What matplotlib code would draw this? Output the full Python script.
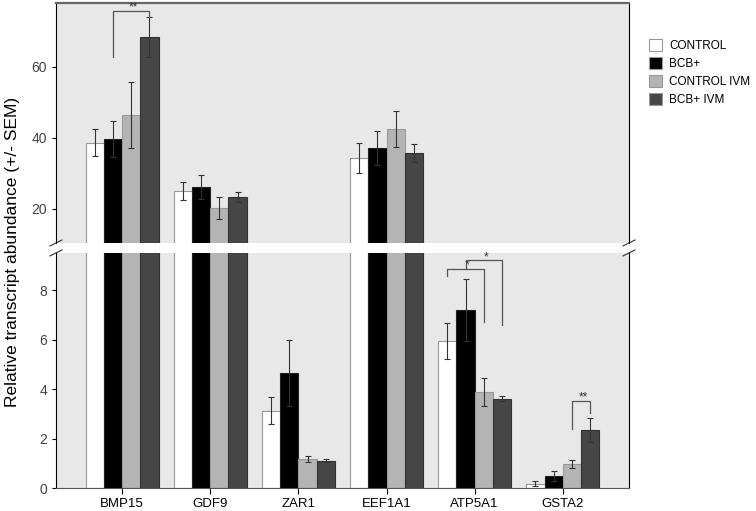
"""Relative transcript abundance by gene and treatment, broken y axis."""

import matplotlib

matplotlib.use("Agg")
import matplotlib.pyplot as plt
import numpy as np
from matplotlib.patches import Patch

plt.rcParams["font.family"] = ["Liberation Sans", "DejaVu Sans"]

GENES = ["BMP15", "GDF9", "ZAR1", "EEF1A1", "ATP5A1", "GSTA2"]
GROUPS = ["CONTROL", "BCB+", "CONTROL IVM", "BCB+ IVM"]

# mean and SEM per group, one entry per gene
CONTROL = [38.6, 25.1, 3.12, 34.4, 5.95, 0.18]
CONTROL_SEM = [3.8, 2.5, 0.55, 4.2, 0.73, 0.10]
BCB = [39.7, 26.2, 4.66, 37.2, 7.20, 0.48]
BCB_SEM = [5.0, 3.4, 1.33, 4.8, 1.26, 0.20]
CONTROL_IVM = [46.5, 20.3, 1.17, 42.5, 3.88, 0.97]
CONTROL_IVM_SEM = [9.3, 3.1, 0.12, 5.1, 0.57, 0.16]
BCB_IVM = [68.4, 23.4, 1.10, 35.8, 3.60, 2.34]
BCB_IVM_SEM = [5.6, 1.4, 0.06, 2.5, 0.10, 0.48]

# significance brackets: (gene index, group a, group b, y left leg, y top, y right leg, label)
BRACKETS_UP = [(0, 1, 3, 62.8, 75.8, 74.1, "**")]
BRACKETS_LOW = [
    (4, 0, 2, 8.55, 8.87, 6.72, "*"),
    (4, 1, 3, 8.87, 9.20, 6.60, "*"),
    (5, 2, 3, 2.39, 3.52, 3.04, "**"),
]

FILL = ["white", "black", "#b4b4b4", "#464646"]
EDGE = ["#999999", "#222222", "#999999", "#333333"]
BG = "#e8e8e8"

means = [CONTROL, BCB, CONTROL_IVM, BCB_IVM]
sems = [CONTROL_SEM, BCB_SEM, CONTROL_IVM_SEM, BCB_IVM_SEM]

fig = plt.figure(figsize=(7.56, 5.11), dpi=100)
ax_up = fig.add_axes([0.074, 0.5245, 0.758, 0.4695])
ax_lo = fig.add_axes([0.074, 0.045, 0.758, 0.460])

x = np.arange(len(GENES))
width = 0.207
offsets = (np.arange(4) - 1.5) * width

for ax in (ax_up, ax_lo):
    ax.set_facecolor(BG)
    for j in range(4):
        ax.bar(
            x + offsets[j],
            means[j],
            width,
            color=FILL[j],
            edgecolor=EDGE[j],
            linewidth=0.8,
            zorder=2,
        )
        ax.errorbar(
            x + offsets[j],
            means[j],
            yerr=sems[j],
            fmt="none",
            ecolor="#333333",
            elinewidth=0.8,
            capsize=2.2,
            capthick=0.8,
            zorder=3,
        )
    ax.set_xlim(-0.75, 5.75)
    ax.tick_params(axis="y", labelsize=10, labelcolor="#444444", length=3, width=0.8)

ax_up.set_ylim(10.4, 78)
ax_up.set_yticks([20, 40, 60])
ax_up.set_xticks([])
ax_up.spines["bottom"].set_visible(False)
ax_up.spines["top"].set_color("#666666")
ax_up.spines["top"].set_linewidth(1.6)

ax_lo.set_ylim(0, 9.5)
ax_lo.set_yticks([0, 2, 4, 6, 8])
ax_lo.set_xticks(x, GENES)
ax_lo.tick_params(axis="x", labelsize=9.5, length=4, width=0.8, pad=3)
ax_lo.spines["top"].set_visible(False)
ax_lo.spines["bottom"].set_color("#555555")

# break marks on both sides
kw = dict(color="#333333", lw=0.8, clip_on=False, transform=None)
for ax, yy in ((ax_up, 0.0), (ax_lo, 1.0)):
    for xx in (0.0, 1.0):
        px, py = ax.transAxes.transform((xx, yy))
        ax.add_line(
            plt.Line2D([px - 6, px + 6], [py - 3, py + 3], **kw)
        )


def draw_bracket(ax, gene, a, b, y1, ytop, y2, label):
    xa = gene + offsets[a]
    xb = gene + offsets[b]
    ax.plot([xa, xa, xb, xb], [y1, ytop, ytop, y2], color="#555555", lw=0.9, zorder=4)
    ax.text(
        (xa + xb) / 2 + 0.02,
        ytop,
        label,
        ha="center",
        va="baseline",
        fontsize=8.5,
        color="#333333",
    )


for br in BRACKETS_UP:
    draw_bracket(ax_up, *br)
for br in BRACKETS_LOW:
    draw_bracket(ax_lo, *br)

fig.text(
    0.017,
    0.507,
    "Relative transcript abundance (+/- SEM)",
    rotation=90,
    ha="center",
    va="center",
    fontsize=12.5,
)

handles = [
    Patch(facecolor=FILL[j], edgecolor="#999999", linewidth=0.8, label=GROUPS[j])
    for j in range(4)
]
fig.legend(
    handles=handles,
    loc="upper left",
    bbox_to_anchor=(0.852, 0.932),
    frameon=False,
    fontsize=8.5,
    handlelength=1.1,
    handleheight=1.1,
    handletextpad=0.6,
    labelspacing=0.45,
    borderaxespad=0,
)

fig.savefig("out.png", dpi=100)
